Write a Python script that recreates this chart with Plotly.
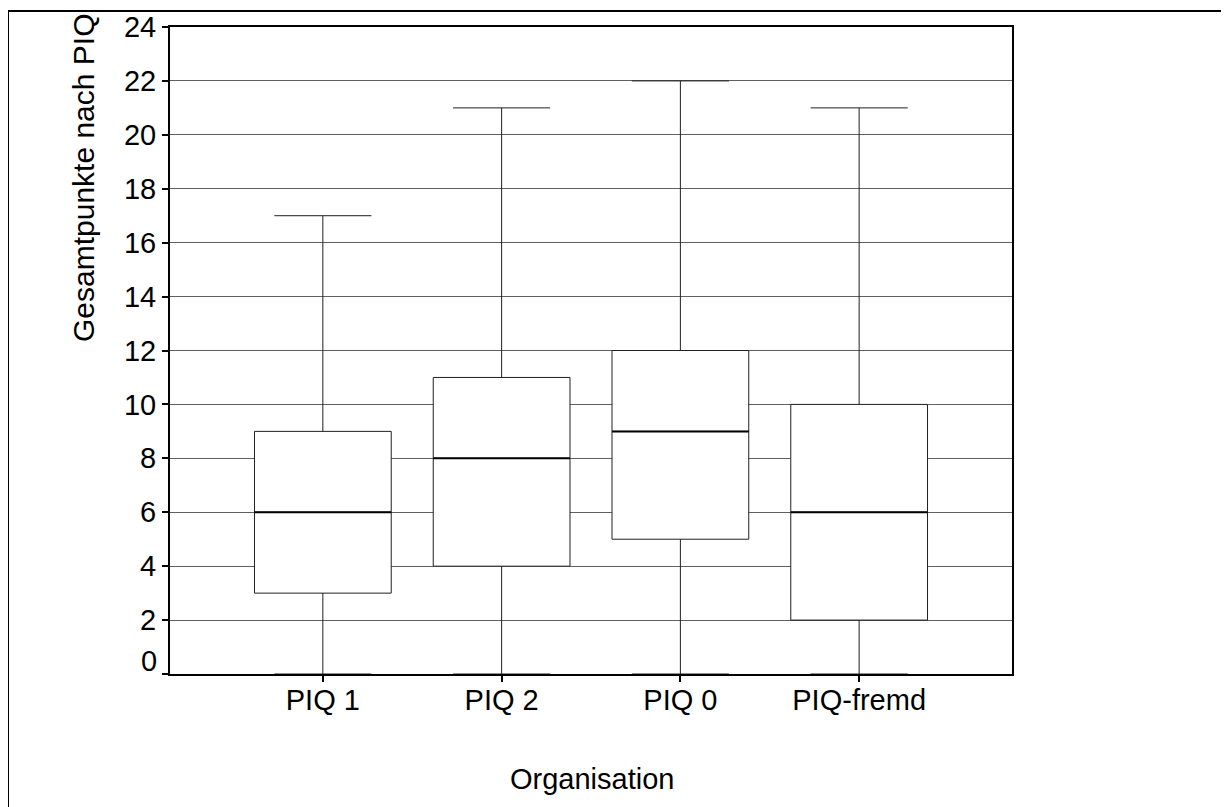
import plotly.graph_objects as go

categories = ["PIQ 1", "PIQ 2", "PIQ 0", "PIQ-fremd"]
lower_whisker = [0, 0, 0, 0]
q1_values = [3, 4, 5, 2]
median_values = [6, 8, 9, 6]
q3_values = [9, 11, 12, 10]
upper_whisker = [17, 21, 22, 21]
y_tick_values = [0, 2, 4, 6, 8, 10, 12, 14, 16, 18, 20, 22, 24]
y_tick_labels = ["", "2", "4", "6", "8", "10", "12", "14", "16", "18", "20", "22", "24"]
y_title = "Gesamtpunkte nach PIQ"
x_title = "Organisation"

FONT = "Liberation Sans, Arial, sans-serif"

OFF = 8  # page body margin
W, H = 1229, 807
# plot area in page pixels
L, R, T, B = 170, 1012, 27, 674

fig = go.Figure()

fig.add_trace(go.Box(
    x=categories,
    q1=q1_values, median=median_values, q3=q3_values,
    lowerfence=lower_whisker, upperfence=upper_whisker,
    boxpoints=False,
    width=0.765,
    whiskerwidth=0.71,
    fillcolor="white",
    line=dict(color="#202020", width=1),
    hoverinfo="skip",
    showlegend=False,
))

# thicker black median lines
fig.add_trace(go.Box(
    x=categories,
    q1=median_values, median=median_values, q3=median_values,
    lowerfence=median_values, upperfence=median_values,
    boxpoints=False,
    width=0.765,
    whiskerwidth=0,
    fillcolor="rgba(0,0,0,0)",
    line=dict(color="black", width=2),
    hoverinfo="skip",
    showlegend=False,
))

fig.update_layout(
    width=W, height=H,
    margin=dict(l=L - OFF, r=W - (R - OFF), t=T - OFF, b=H - (B - OFF), pad=0, autoexpand=False),
    paper_bgcolor="white",
    plot_bgcolor="white",
    boxmode="overlay",
    font=dict(family=FONT, size=29, color="black"),
    xaxis=dict(
        type="category",
        range=[-0.855, 3.855],
        automargin=False,
        showgrid=False,
        showline=True, linecolor="black", linewidth=2, mirror=True,
        ticks="outside", ticklen=6, tickwidth=2, tickcolor="black",
        ticklabelstandoff=-7,
        tickfont=dict(family=FONT, size=29, color="black"),
        zeroline=False,
    ),
    yaxis=dict(
        range=[0, 24],
        automargin=False,
        tickvals=y_tick_values,
        ticktext=y_tick_labels,
        showgrid=True, gridcolor="#606060", gridwidth=1,
        showline=True, linecolor="black", linewidth=2, mirror=True,
        ticks="outside", ticklen=6, tickwidth=2, tickcolor="black",
        tickfont=dict(family=FONT, size=29, color="black"),
        zeroline=False,
    ),
)

pw = R - L
ph = B - T

def px_x(p):
    return (p - L) / pw

def px_y(p):
    return (B - p) / ph

# "0" tick label placed slightly above the axis, as in the reference
fig.add_annotation(
    text="0", xref="paper", yref="paper",
    x=px_x(159), y=px_y(661), xanchor="right", yanchor="middle",
    showarrow=False, font=dict(family=FONT, size=29, color="black"),
)

fig.add_annotation(
    text=y_title, xref="paper", yref="paper",
    x=px_x(83), y=px_y(178), xanchor="center", yanchor="middle",
    textangle=-90, showarrow=False,
    font=dict(family=FONT, size=30, color="black"),
)

fig.add_annotation(
    text=x_title, xref="paper", yref="paper",
    x=px_x(592), y=px_y(779), xanchor="center", yanchor="middle",
    showarrow=False,
    font=dict(family=FONT, size=29, color="black"),
)

# outer frame (extends off the right and bottom edge)
fig.add_shape(
    type="rect", xref="paper", yref="paper",
    x0=px_x(8), x1=px_x(1260), y0=px_y(840), y1=px_y(11),
    line=dict(color="black", width=2), fillcolor="rgba(0,0,0,0)",
    layer="below",
)

fig.write_html("out.html")
